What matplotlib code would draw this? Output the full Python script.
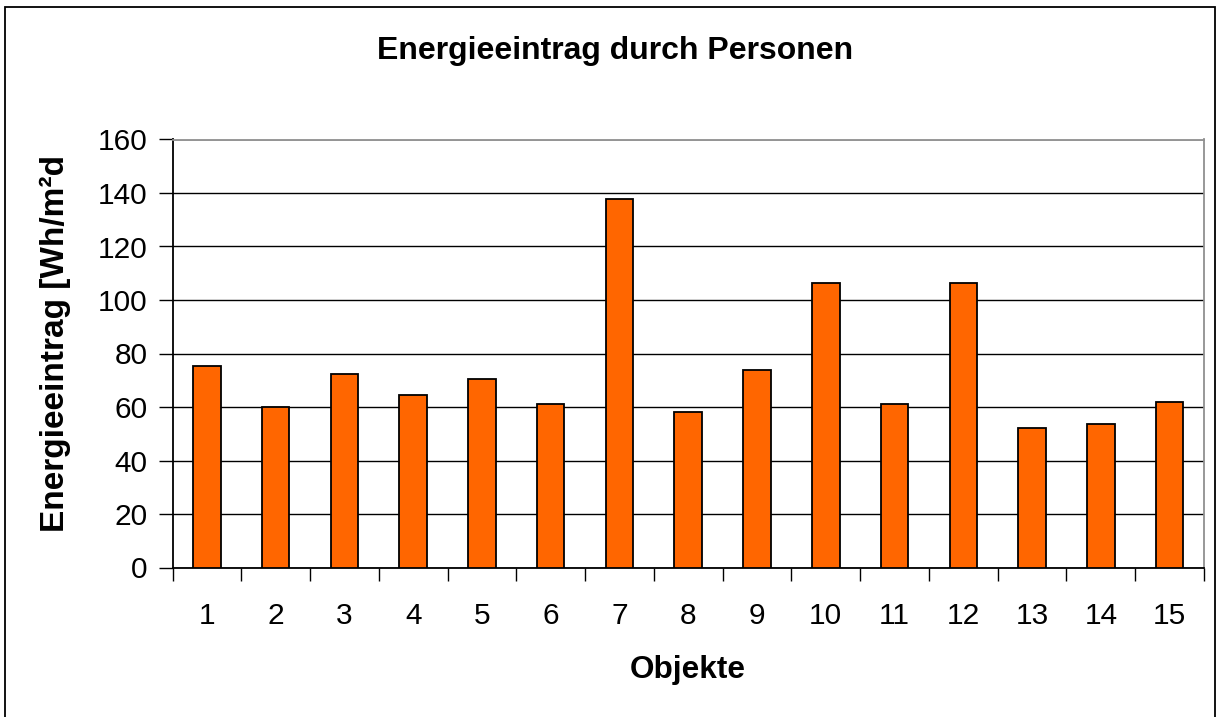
import matplotlib
matplotlib.use("Agg")
import matplotlib.pyplot as plt
from matplotlib.patches import Rectangle
import numpy as np

categories = ["1", "2", "3", "4", "5", "6", "7", "8", "9", "10", "11", "12", "13", "14", "15"]
values = [75.5, 60.0, 72.5, 64.3, 70.5, 61.3, 137.7, 58.2, 74.0, 106.2, 61.3, 106.2, 52.3, 53.8, 61.9]
yticks = [0, 20, 40, 60, 80, 100, 120, 140, 160]

plt.rcParams['font.family'] = ['Liberation Sans', 'DejaVu Sans']

W, H = 1220, 717
fig = plt.figure(figsize=(W / 100, H / 100), dpi=100)
fig.patch.set_facecolor('white')

# outer frame
fig.patches.append(Rectangle((5 / W, -0.01), (1215 - 5) / W, 1 - 7 / H + 0.01,
                             transform=fig.transFigure, fill=False,
                             edgecolor='black', linewidth=1.3))

left, right, top, bottom = 172.5, 1204, 139.5, 567.5
ax = fig.add_axes([left / W, 1 - bottom / H, (right - left) / W, (bottom - top) / H])

x = np.arange(len(categories))
ax.bar(x, values, width=0.4, color='#FF6600', edgecolor='black', linewidth=1.3, zorder=3)

ax.set_xlim(-0.5, len(categories) - 0.5)
ax.set_ylim(0, 160)
ax.set_yticks(yticks)
ax.set_yticklabels([str(t) for t in yticks])
ax.yaxis.grid(True, color='black', linewidth=1.0, zorder=0)
ax.set_axisbelow(True)

ax.set_xticks(x)
ax.set_xticklabels(categories)
ax.set_xticks(np.arange(-0.5, len(categories)), minor=True)
ax.tick_params(axis='x', which='major', length=0, pad=25, labelsize=21.5)
ax.tick_params(axis='x', which='minor', length=9, width=1.0, direction='out', color='black')
ax.tick_params(axis='y', which='major', length=10, width=1.0, direction='out', pad=8,
               labelsize=21.5, color='black')

for s in ['left', 'bottom']:
    ax.spines[s].set_color('black')
    ax.spines[s].set_linewidth(1.3)
for s in ['top', 'right']:
    ax.spines[s].set_color('#909090')
    ax.spines[s].set_linewidth(1.3)

fig.text(615 / W, 1 - 51 / H, 'Energieeintrag durch Personen', ha='center', va='center',
         fontsize=23, fontweight='bold')
fig.text(688 / W, 1 - 670 / H, 'Objekte', ha='center', va='center',
         fontsize=22.7, fontweight='bold')
fig.text(55 / W, 1 - 343 / H, 'Energieeintrag [Wh/m²d', ha='center', va='center',
         rotation=90, fontsize=24, fontweight='bold')

fig.savefig('out.png', dpi=100, facecolor='white')
